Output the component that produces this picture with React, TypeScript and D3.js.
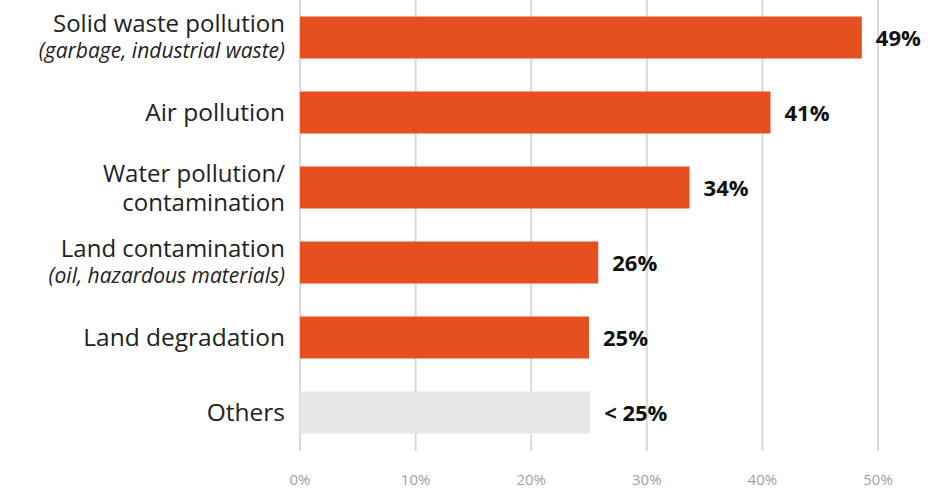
import React from "react";
import * as d3 from "d3";

const categories = [
  "Solid waste pollution",
  "Air pollution",
  "Water pollution/",
  "Land contamination",
  "Land degradation",
  "Others",
];
const secondLines = ["(garbage, industrial waste)", "", "contamination", "(oil, hazardous materials)", "", ""];
const secondItalic = [true, false, false, true, false, false];
const values = [48.6, 40.7, 33.7, 25.8, 25.0, 25.1];
const valueLabels = ["49%", "41%", "34%", "26%", "25%", "< 25%"];
const highlighted = [true, true, true, true, true, false];
const ticks = [0, 10, 20, 30, 40, 50];

const W = 950;
const H = 490;
const FONT = "'Open Sans', sans-serif";

export default function App() {
  const x = d3.scaleLinear().domain([0, 50]).range([300, 878]);
  const y = d3
    .scaleBand<number>()
    .domain(d3.range(categories.length))
    .range([0, 450])
    .paddingInner(0.44)
    .paddingOuter(0.22);
  const bw = y.bandwidth();
  return (
    <div style={{ position: "absolute", left: 0, top: 0 }}>
      <svg width={W} height={H} style={{ display: "block", fontFamily: FONT }}>
        <rect width={W} height={H} fill="#fff" />
        {ticks.map((t) => (
          <g key={t}>
            <line x1={x(t)} x2={x(t)} y1={0} y2={451} stroke="#D9D9D9" strokeWidth={2} />
            <text x={x(t)} y={485} textAnchor="middle" fontSize={15} fill="#A0A0A0">
              {t}%
            </text>
          </g>
        ))}
        {values.map((v, i) => {
          const yy = y(i)!;
          const cy = yy + bw / 2;
          const two = secondLines[i] !== "";
          return (
            <g key={i}>
              <rect
                x={x(0)}
                y={yy}
                width={x(v) - x(0)}
                height={bw}
                fill={highlighted[i] ? "#E6501E" : "#E6E6E6"}
              />
              <text
                x={x(v) + 14}
                y={cy + 8}
                fontSize={22}
                fontWeight="bold"
                fill="#111"
              >
                {valueLabels[i]}
              </text>
              {two ? (
                <>
                  <text
                    x={285}
                    y={cy - 6}
                    textAnchor="end"
                    fontSize={24}
                    fill="#222"
                  >
                    {categories[i]}
                  </text>
                  <text
                    x={285}
                    y={cy + (secondItalic[i] ? 20 : 23)}
                    textAnchor="end"
                    fontSize={secondItalic[i] ? 21 : 24}
                    fontStyle={secondItalic[i] ? "italic" : "normal"}
                    fill="#222"
                  >
                    {secondLines[i]}
                  </text>
                </>
              ) : (
                <text x={285} y={cy + 8} textAnchor="end" fontSize={24.5} fill="#222">
                  {categories[i]}
                </text>
              )}
            </g>
          );
        })}
      </svg>
    </div>
  );
}
